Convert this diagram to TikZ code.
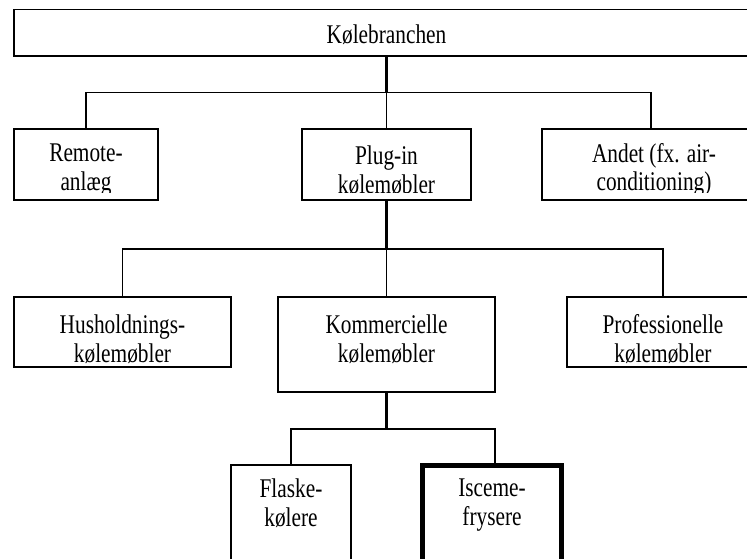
\documentclass[tikz,border=0pt]{standalone}
\usepackage{fontspec}
\newfontfamily\tnr[FakeStretch=0.79]{Liberation Serif}
\begin{document}
\begin{tikzpicture}[x=1pt,y=-1pt,
  box/.style={draw, line width=1.5pt, inner sep=0pt, outer sep=0pt},
  heavybox/.style={draw, line width=5pt, inner sep=0pt, outer sep=0pt},
  lbl/.style={font=\tnr\fontsize{27}{28.5}\selectfont, align=center, inner sep=0pt},
  link/.style={line width=1.5pt},
  trunk/.style={line width=3pt}]
\useasboundingbox (0,0) rectangle (747,559);
\clip (0,0) rectangle (747,559);

% boxes
\node[box, minimum width=745pt, minimum height=46.5pt] (top) at (386.5,32.75) {};
\node[box, minimum width=144pt, minimum height=71pt] (rem) at (86,164.5) {};
\node[box, minimum width=169pt, minimum height=71pt] (plug) at (386.5,164.5) {};
\node[box, minimum width=218pt, minimum height=71pt] (and) at (651,164.5) {};
\node[box, minimum width=217pt, minimum height=70pt] (hush) at (122.5,332) {};
\node[box, minimum width=217pt, minimum height=95pt] (komm) at (386.5,344.5) {};
\node[box, minimum width=192pt, minimum height=70pt] (prof) at (663,332) {};
\node[box, minimum width=120pt, minimum height=135pt] (flask) at (291,532.5) {};
\node[heavybox, minimum width=139pt, minimum height=134.5pt] (isc) at (492,532.75) {};

% junctions of the branch bars
\coordinate (j1) at (386.5,92.5);
\coordinate (j2) at (386.5,249);
\coordinate (j3) at (386.5,429);
\coordinate (iscTop) at (495,465.5);

% connectors
\draw[trunk] (top.south) -- (j1);
\draw[link] (rem.north) |- (j1) -| (and.north);
\draw[link] (j1) -- (plug.north);
\draw[trunk] (plug.south) -- (j2);
\draw[link] (hush.north) |- (j2) -| (prof.north);
\draw[link] (j2) -- (komm.north);
\draw[trunk] (komm.south) -- (j3);
\draw[link] (flask.north) |- (j3) -| (iscTop);

% labels
\node[lbl] (tTop) at (386.5,35) {Kølebranchen};
\begin{scope}
  \clip (0,0) rectangle (747,192);
  \node[lbl] (tRem) at (86,170) {Remote-\\anlæg};
  \node[lbl] (tPlug) at (386.5,170) {Plug-in\\kølemøbler};
  \node[lbl] (tAnd) at (654,170) {Andet (fx. air-\\conditioning)};
\end{scope}
\node[lbl] (tHush) at (122.5,339) {Husholdnings-\\kølemøbler};
\node[lbl] (tKomm) at (386.5,339) {Kommercielle\\kølemøbler};
\node[lbl] (tProf) at (663,339) {Professionelle\\kølemøbler};
\node[lbl] (tFlask) at (291,503) {Flaske-\\kølere};
\node[lbl] (tIsc) at (492,505) {Isceme-\\frysere};
\end{tikzpicture}
\end{document}
